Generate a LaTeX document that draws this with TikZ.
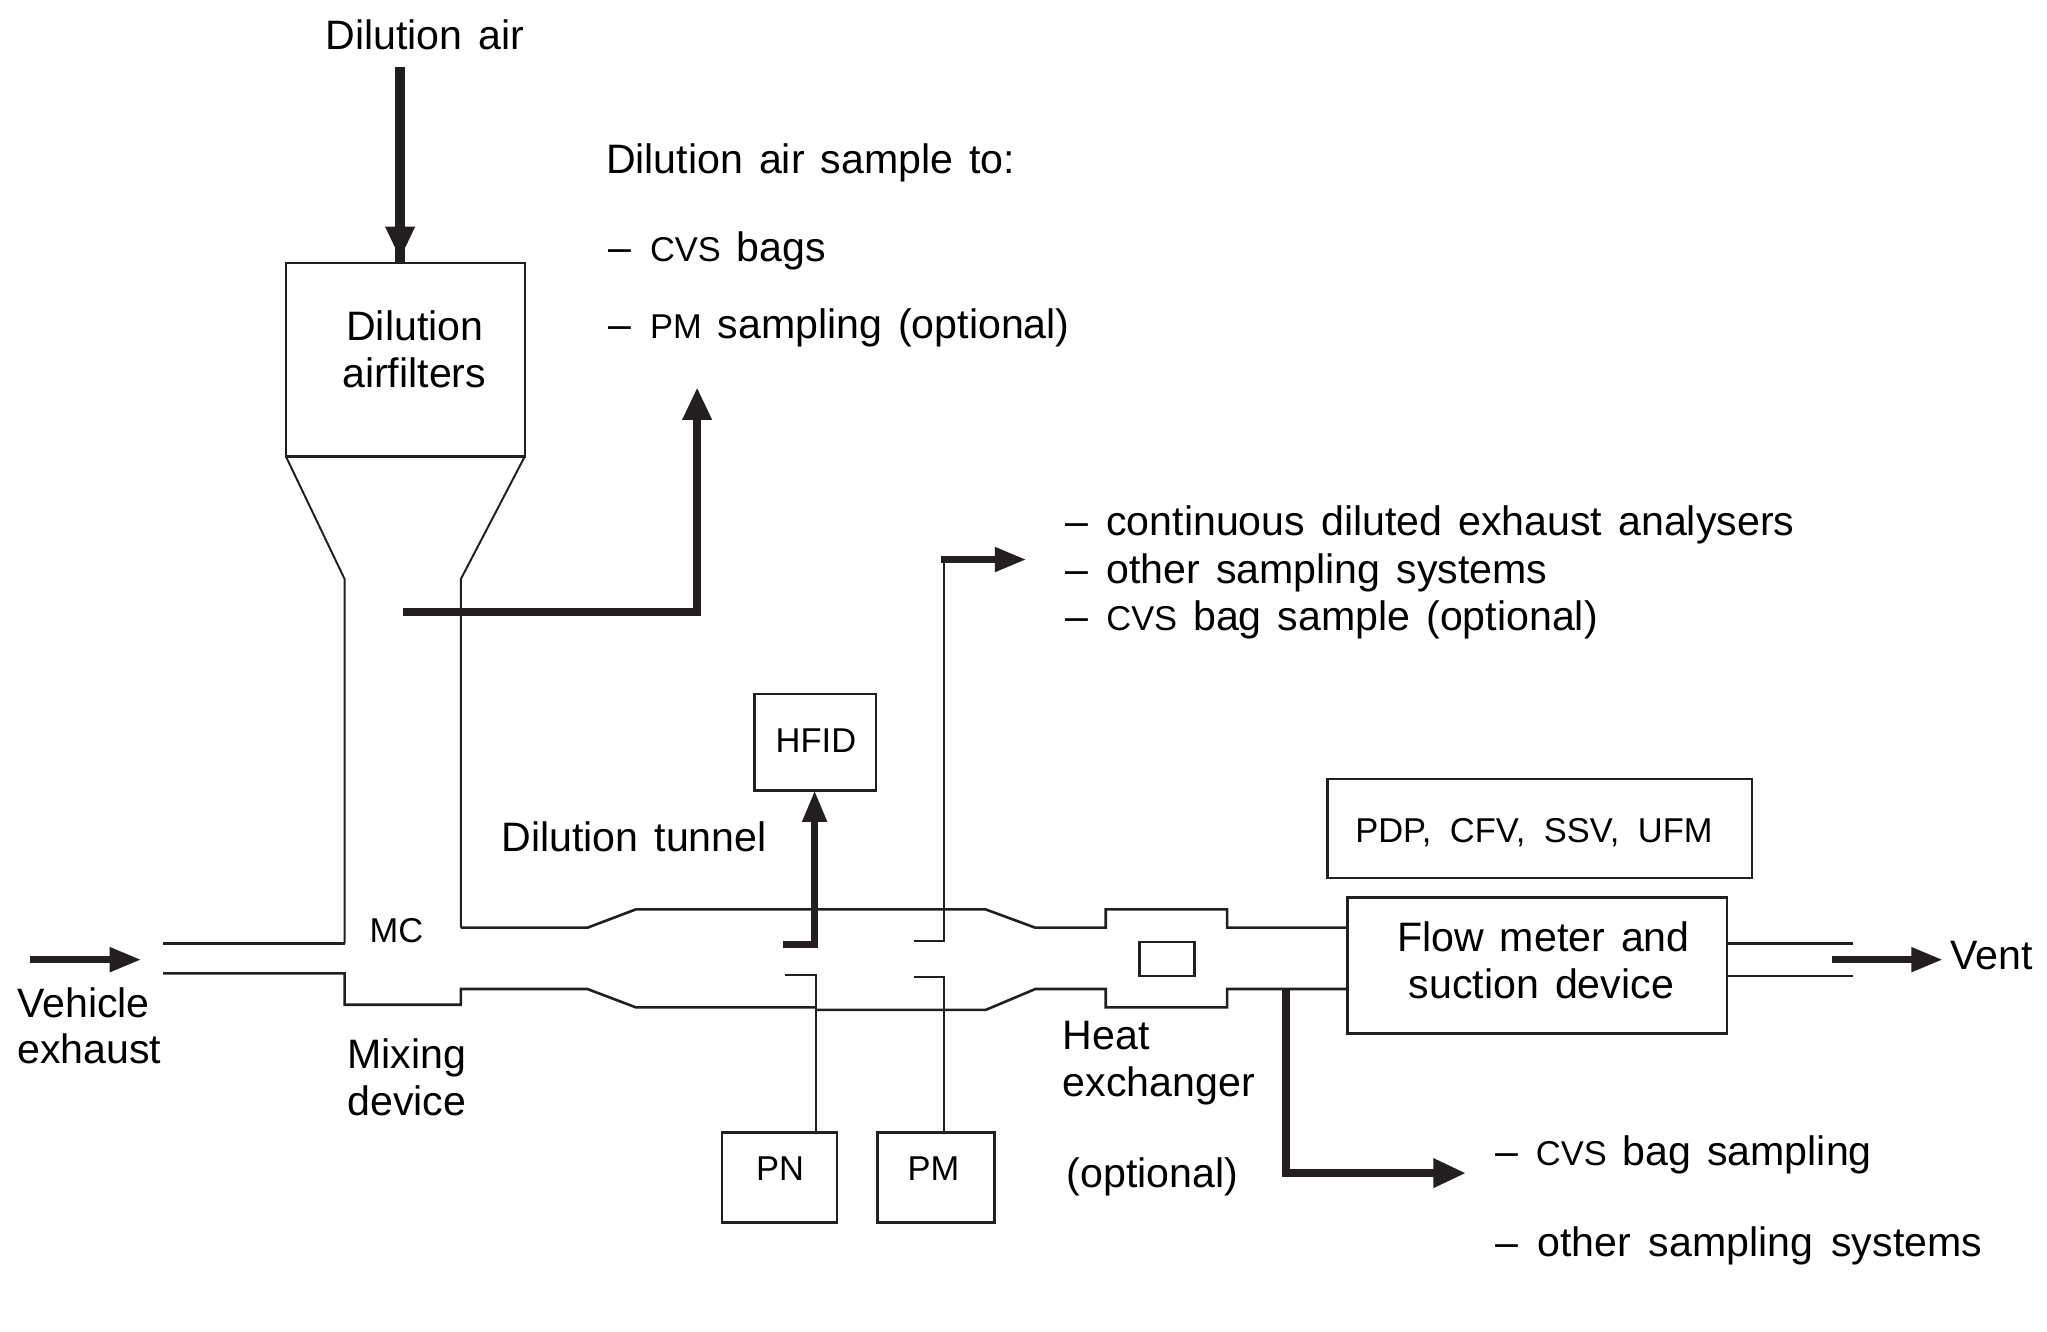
\documentclass[tikz,border=0pt]{standalone}
\usepackage{fontspec}
\setmainfont[WordSpace=1.4]{Liberation Sans}
\usetikzlibrary{arrows.meta}
\newcommand{\lblfont}{\fontsize{31.5}{36.5}\selectfont}
\newcommand{\smfont}{\fontsize{26.4}{30}\selectfont}
\definecolor{ink}{HTML}{231F20}
\tikzset{
  x=1pt, y=-1pt,
  txt/.style={inner sep=0pt, anchor=base west, font=\lblfont, text=black},
  smalltxt/.style={txt, font=\smfont},
  boxed/.style={draw=ink, line width=2pt, fill=none, inner sep=0pt, outer sep=0pt, anchor=north west},
  pipe/.style={draw=ink, line width=2pt, line join=miter},
  cone/.style={draw=ink, line width=1.5pt, line join=miter},
  probe/.style={draw=ink, line width=1.6pt},
  flow/.style={draw=ink, line width=6.4pt, line join=miter,
    -{Triangle[length=25pt,width=21pt,fill=ink]}},
  flowthin/.style={flow, line width=5pt, -{Triangle[length=24pt,width=18pt,fill=ink]}},
  flowwide/.style={flow, line width=7.5pt}
}
\begin{document}
\begin{tikzpicture}
\useasboundingbox (0,0) rectangle (1568,1020);
\begin{scope}[yshift=-0.6pt]

% Equipment boxes
\node[boxed, minimum width=183pt, minimum height=148pt] (filter) at (219,201) {};
\node[boxed, minimum width=93pt, minimum height=74pt] (hfid) at (578,531) {};
\node[boxed, minimum width=325pt, minimum height=76pt] (pdp) at (1017,596) {};
\node[boxed, minimum width=291pt, minimum height=104pt] (meter) at (1032,687) {};
\node[boxed, minimum width=42pt, minimum height=26pt] (hx) at (873,721) {};
\node[boxed, minimum width=88pt, minimum height=69pt] (pn) at (553,867) {};
\node[boxed, minimum width=90pt, minimum height=69pt] (pm) at (672,867) {};

% Filter outlet cone, mixing section and tunnel walls
\draw[cone] (filter.south west) -- (264,443) -- (264,722);
\draw[pipe] (264,722) -- (125,722);
\draw[cone] (filter.south east) -- (353,443) -- (353,710);
\draw[pipe] (353,710) -- (450,710) -- (487,696)
  -- (755,696) -- (793,710) -- (847,710) -- (847,696) -- (940,696) -- (940,710) -- (1032,710);
\draw[pipe] (125,745) -- (264,745) -- (264,769) -- (353,769) -- (353,757) -- (450,757)
  -- (487,771) -- (625,771);
\draw[pipe] (625,773) -- (755,773) -- (793,757) -- (847,757) -- (847,771) -- (940,771)
  -- (940,757) -- (1032,757);
\draw[pipe] (1323,722) -- (1419,722);
\draw[pipe] (1323,747) -- (1419,747);

% Sampling probes
\draw[probe] (601,746) -| (pn.north -| 625,0);
\draw[probe] (700,748) -| (pm.north -| 723,0);
\draw[probe] (700,720) -- (723,720) -- (723,428);

% Flow arrows
\coordinate (exhaustStart) at (23,734.5);
\coordinate (exhaustEnd) at (108,734.5);
\coordinate (airStart) at (306.5,51);
\coordinate (airTip) at (306.5,198);
\coordinate (sampleStart) at (309,468);
\coordinate (sampleEnd) at (534,296);
\coordinate (hfidProbe) at (600,723);
\coordinate (contCorner) at (721,428);
\coordinate (contEnd) at (786,428);
\coordinate (ventStart) at (1403,734.5);
\coordinate (ventEnd) at (1488,734.5);
\coordinate (bagStart) at (985,757);
\coordinate (bagEnd) at (1123,898);
\draw[flowthin] (exhaustStart) -- (exhaustEnd);
\draw[flowwide] (airStart) -- (airTip);
\draw[draw=ink, line width=7.5pt] (airStart) -- (filter.north -| airStart);
\draw[flow] (sampleStart) -| (sampleEnd);
\draw[flowthin] (hfidProbe) -| (hfid.south -| 624,0);
\draw[flowthin] (contCorner) -- (contEnd);
\draw[flowthin] (ventStart) -- (ventEnd);
\draw[flow] (bagStart) |- (bagEnd);

% Box labels
\node[txt] (filterA) at (265,260) {Dilution};
\node[txt] (filterB) at (262,296) {airfilters};
\node[smalltxt] (hfidT) at (594,576) {HFID};
\node[smalltxt] (pdpT) at (1038,645) {PDP,\hspace{4pt} CFV,\hspace{4pt} SSV,\hspace{4pt} UFM};
\node[txt] (meterA) at (1070,728) {Flow meter and};
\node[txt] (meterB) at (1079,764) {suction device};
\node[smalltxt] (pnT) at (579,904) {PN};
\node[smalltxt] (pmT) at (695,904) {PM};

% Free labels
\node[txt] (airT) at (249,37) {Dilution air};
\node[txt] (sampleT) at (464,132) {Dilution air sample to:};
\node[txt] (sampleA) at (466,200) {– \hspace{2pt}{\smfont CVS} bags};
\node[txt] (sampleB) at (466,259) {– \hspace{2pt}{\smfont PM} sampling (optional)};
\node[txt] (contA) at (816,409.5) {– \hspace{1.5pt}continuous diluted exhaust analysers};
\node[txt] (contB) at (816,446) {– \hspace{1.5pt}other sampling systems};
\node[txt] (contC) at (816,482) {– \hspace{1.5pt}{\smfont CVS} bag sample (optional)};
\node[txt] (tunnelT) at (384,652) {Dilution tunnel};
\node[smalltxt] (mcT) at (283,721) {MC};
\node[txt] (vehA) at (13,779) {Vehicle};
\node[txt] (vehB) at (13,814) {exhaust};
\node[txt] (mixA) at (266,818) {Mixing};
\node[txt] (mixB) at (266,854) {device};
\node[txt] (heatA) at (814,803) {Heat};
\node[txt] (heatB) at (814,839) {exchanger};
\node[txt] (heatC) at (817,909) {(optional)};
\node[txt] (ventT) at (1494,742) {Vent};
\node[txt] (bagA) at (1145,892) {– \hspace{1.5pt}{\smfont CVS} bag sampling};
\node[txt] (bagB) at (1145,962) {– \hspace{2.5pt}other\hspace{1.5pt} sampling\hspace{1.5pt} systems};
\end{scope}
\end{tikzpicture}
\end{document}
